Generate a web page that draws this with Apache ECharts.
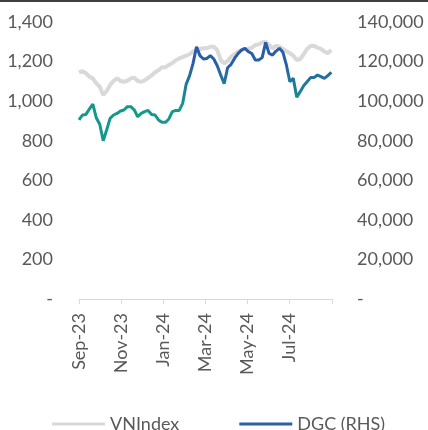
<!DOCTYPE html>
<html lang="en">
<head>
<meta charset="UTF-8">
<title>VNIndex vs DGC</title>
<style>
	html, body { margin: 0; padding: 0; background: #fff; }
	#main { width: 428px; height: 430px; }
	#topline { position: absolute; left: 0; top: 0; width: 428px; height: 2px; background: #404040; }
</style>
</head>
<body>
	<div id="main"></div>
	<div id="topline"></div>

	<script src="https://cdn.jsdelivr.net/npm/echarts@6/dist/echarts.min.js"></script>
	<script type="text/javascript">
		var dates = [
			'2023-09-01', '2023-09-06', '2023-09-11', '2023-09-16', '2023-09-21', '2023-09-26',
			'2023-10-01', '2023-10-06', '2023-10-11', '2023-10-16', '2023-10-21', '2023-10-26', '2023-10-31',
			'2023-11-05', '2023-11-10', '2023-11-15', '2023-11-20', '2023-11-25', '2023-11-30',
			'2023-12-05', '2023-12-10', '2023-12-15', '2023-12-20', '2023-12-25', '2023-12-30',
			'2024-01-04', '2024-01-09', '2024-01-14', '2024-01-19', '2024-01-24', '2024-01-29',
			'2024-02-03', '2024-02-08', '2024-02-13', '2024-02-18', '2024-02-23', '2024-02-28',
			'2024-03-04', '2024-03-09', '2024-03-14', '2024-03-19', '2024-03-24', '2024-03-29',
			'2024-04-03', '2024-04-08', '2024-04-13', '2024-04-18', '2024-04-23', '2024-04-28',
			'2024-05-03', '2024-05-08', '2024-05-13', '2024-05-18', '2024-05-23', '2024-05-28',
			'2024-06-02', '2024-06-07', '2024-06-12', '2024-06-17', '2024-06-22', '2024-06-27',
			'2024-07-02', '2024-07-07', '2024-07-12', '2024-07-17', '2024-07-22', '2024-07-27',
			'2024-08-01', '2024-08-06', '2024-08-11', '2024-08-16', '2024-08-21', '2024-08-26', '2024-08-31'
		];
		var vnindex = [
			1146, 1152, 1141, 1124, 1115, 1090,
			1073, 1031, 1051, 1082, 1102, 1115, 1102,
			1098, 1103, 1115, 1119, 1102, 1098,
			1105, 1117, 1130, 1146, 1156, 1171,
			1171, 1183, 1193, 1206, 1216, 1223,
			1230, 1237, 1250, 1258, 1264, 1267,
			1267, 1275, 1275, 1258, 1208, 1191,
			1203, 1225, 1237, 1250, 1258, 1264,
			1264, 1270, 1284, 1287, 1297, 1301,
			1284, 1267, 1280, 1275, 1264, 1253,
			1242, 1230, 1208, 1213, 1237, 1264,
			1279, 1280, 1270, 1264, 1250, 1242, 1258
		];
		var dgc = [
			90500, 93000, 93300, 96000, 98500, 91600,
			88300, 80000, 85400, 91300, 93000, 93800, 95000,
			95500, 97200, 97200, 95500, 92100, 93800,
			94700, 95300, 93300, 93000, 90500, 89300,
			89300, 91000, 94700, 95300, 95300, 98900,
			108500, 112900, 119100, 127500, 123000, 121300,
			121600, 123000, 121300, 117900, 113200, 108800,
			116900, 118600, 121600, 124000, 125800, 126700,
			125000, 124100, 120800, 120800, 122000, 129700,
			124100, 123300, 125300, 126700, 124700, 118300,
			109800, 111500, 102000, 104800, 107800, 109800,
			111900, 111900, 113200, 112400, 111500, 112900, 114600
		];
		var tickDates = ['2023-09-01', '2023-11-01', '2024-01-01', '2024-03-01', '2024-05-01', '2024-07-01'];
		var tickLabels = ['Sep-23', 'Nov-23', 'Jan-24', 'Mar-24', 'May-24', 'Jul-24'];

		var myChart = echarts.init(document.getElementById('main'));
		var parse = function (s) { return +echarts.time.parse(s); };
		var tickTimes = tickDates.map(parse);
		var grey = '#595959';
		var font = 'Lato';

		function thousands(v) {
			if (v === 0) return '-';
			return String(v).replace(/\B(?=(\d{3})+(?!\d))/g, ',');
		}
		function monthLabel(val) {
			for (var i = 0; i < tickTimes.length; i++) {
				if (Math.abs(tickTimes[i] - val) < 86400000) return tickLabels[i];
			}
			return '';
		}

		// DGC line: blue near the top of its range, teal near the bottom
		var dgcColor = new echarts.graphic.LinearGradient(0, 0, 0, 1, [
			{ offset: 0.22, color: '#2a5da8' },
			{ offset: 0.66, color: '#14988b' }
		]);

		var option = {
			animation: false,
			grid: { left: 79, right: 96, top: 22, bottom: 131 },
			legend: {
				left: 47,
				top: 410,
				itemWidth: 53,
				itemHeight: 3,
				itemGap: 60,
				icon: 'rect',
				textStyle: { color: grey, fontSize: 18, fontFamily: font }
			},
			xAxis: {
				type: 'time',
				min: parse('2023-09-01'),
				max: parse('2024-09-01'),
				splitNumber: 6,
				splitLine: { show: false },
				axisLine: { lineStyle: { color: '#d9d9d9' } },
				axisTick: { show: true, length: 5, lineStyle: { color: '#d9d9d9' } },
				axisLabel: {
					rotate: 90,
					margin: 14,
					color: grey,
					fontSize: 18,
					fontFamily: font,
					showMaxLabel: false,
					formatter: monthLabel
				}
			},
			yAxis: [{
				type: 'value',
				min: 0,
				max: 1400,
				interval: 200,
				splitLine: { show: false },
				axisLine: { show: false },
				axisTick: { show: false },
				axisLabel: { color: grey, fontSize: 18, fontFamily: font, margin: 26, formatter: thousands }
			}, {
				type: 'value',
				min: 0,
				max: 140000,
				interval: 20000,
				splitLine: { show: false },
				axisLine: { show: false },
				axisTick: { show: false },
				axisLabel: { color: grey, fontSize: 18, fontFamily: font, margin: 25, formatter: thousands }
			}],
			series: [{
				name: 'VNIndex',
				type: 'line',
				yAxisIndex: 0,
				showSymbol: false,
				lineStyle: { color: '#d9d9d9', width: 4 },
				itemStyle: { color: '#d9d9d9' },
				data: dates.map(function (d, i) { return [d, vnindex[i]]; })
			}, {
				name: 'DGC (RHS)',
				type: 'line',
				yAxisIndex: 1,
				showSymbol: false,
				lineStyle: { color: dgcColor, width: 3 },
				itemStyle: { color: '#2a62a4' },
				data: dates.map(function (d, i) { return [d, dgc[i]]; })
			}]
		};

		myChart.setOption(option);
	</script>
</body>
</html>
